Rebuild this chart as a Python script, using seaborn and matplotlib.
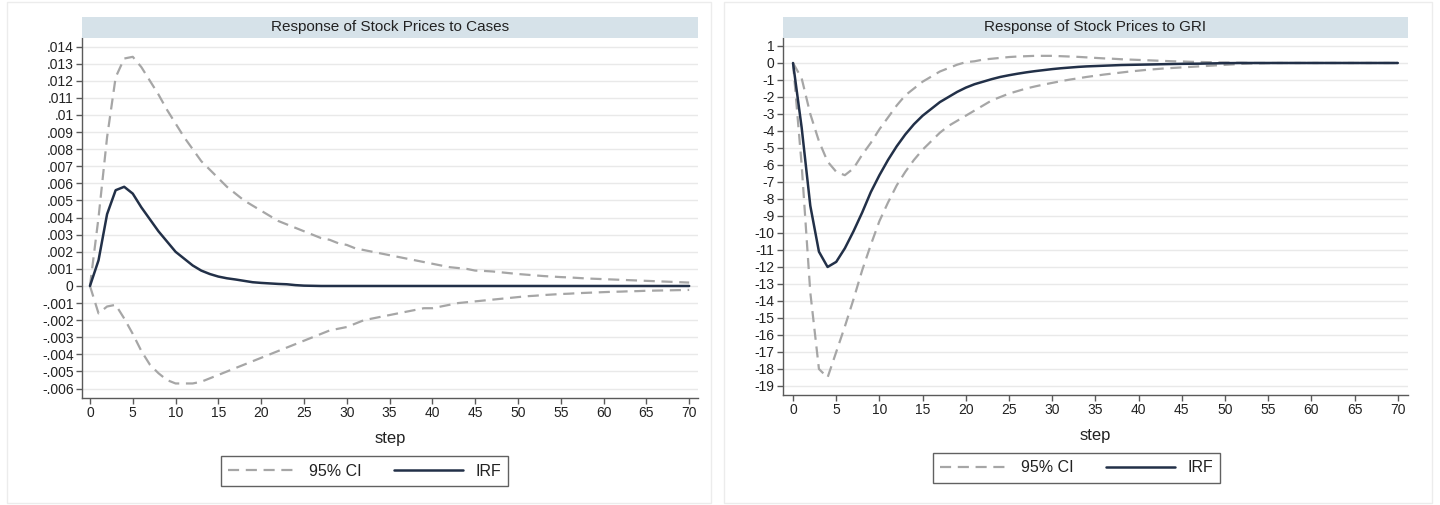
import numpy as np
import pandas as pd
import matplotlib
matplotlib.use("Agg")
import matplotlib.pyplot as plt
from matplotlib.patches import Rectangle
from matplotlib.lines import Line2D
import seaborn as sns

# ---------------- data ----------------
steps = list(range(71))

# Response of Stock Prices to Cases
cases_irf = [0, 0.0015, 0.0042, 0.0056, 0.0058, 0.0054, 0.0046, 0.0039, 0.0032, 0.0026,
             0.0020, 0.0016, 0.0012, 0.0009, 0.0007, 0.00055, 0.00045, 0.00038, 0.0003, 0.00022,
             0.00018, 0.00015, 0.00012, 0.0001, 0.00005, 0.00002, 0.00001] + [0.0] * 44
cases_upper = [0, 0.0040, 0.0087, 0.0122, 0.0133, 0.0134, 0.0128, 0.0120, 0.0112, 0.0103,
               0.0095, 0.0087, 0.0080, 0.0073, 0.0068, 0.0063, 0.0058, 0.0054, 0.0050, 0.0047,
               0.0044, 0.0041, 0.0038, 0.0036, 0.0034, 0.0032, 0.0030, 0.0028, 0.0027, 0.0025,
               0.0024, 0.0022, 0.0021, 0.0020, 0.0019, 0.0018, 0.0017, 0.0016, 0.0015, 0.0014,
               0.0013, 0.0012, 0.0011, 0.00105, 0.0010, 0.0009, 0.00088, 0.00085, 0.0008, 0.00075,
               0.0007, 0.00066, 0.00062, 0.00058, 0.00055, 0.00052, 0.0005, 0.00047, 0.00044, 0.00042,
               0.0004, 0.00038, 0.00036, 0.00034, 0.00032, 0.0003, 0.00028, 0.00026, 0.00024, 0.00022,
               0.0002]
cases_lower = [0, -0.0016, -0.0012, -0.0011, -0.0019, -0.0028, -0.0038, -0.0046, -0.0051, -0.0055,
               -0.0057, -0.0057, -0.0057, -0.0056, -0.0054, -0.0052, -0.0050, -0.0048, -0.0046, -0.0044,
               -0.0042, -0.0040, -0.0038, -0.0036, -0.0034, -0.0032, -0.0030, -0.0028, -0.0026, -0.0025,
               -0.0024, -0.0022, -0.0020, -0.0019, -0.0018, -0.0017, -0.0016, -0.0015, -0.0014, -0.0013,
               -0.0013, -0.0012, -0.0011, -0.0010, -0.00095, -0.0009, -0.00085, -0.0008, -0.00075, -0.0007,
               -0.00065, -0.0006, -0.00057, -0.00053, -0.0005, -0.00047, -0.00045, -0.00042, -0.0004, -0.00038,
               -0.00036, -0.00034, -0.00033, -0.00031, -0.0003, -0.00028, -0.00027, -0.00026, -0.00025, -0.00024,
               -0.00023]

# Response of Stock Prices to GRI
gri_irf = [0, -3.8, -8.4, -11.1, -12.0, -11.7, -10.9, -9.9, -8.8, -7.6,
           -6.6, -5.7, -4.9, -4.2, -3.6, -3.1, -2.7, -2.3, -2.0, -1.7,
           -1.45, -1.25, -1.1, -0.95, -0.82, -0.72, -0.63, -0.55, -0.48, -0.42,
           -0.36, -0.31, -0.27, -0.23, -0.2, -0.18, -0.16, -0.14, -0.12, -0.11,
           -0.1, -0.09, -0.08, -0.07, -0.06, -0.05, -0.045, -0.04, -0.03, -0.02,
           -0.01, -0.005] + [0.0] * 19
gri_upper = [0, -0.9, -3.0, -4.6, -5.8, -6.4, -6.6, -6.2, -5.4, -4.7,
             -3.9, -3.2, -2.5, -1.9, -1.5, -1.1, -0.8, -0.5, -0.3, -0.1,
             0.05, 0.1, 0.2, 0.25, 0.3, 0.35, 0.38, 0.4, 0.42, 0.42,
             0.42, 0.4, 0.38, 0.36, 0.33, 0.3, 0.27, 0.25, 0.22, 0.2,
             0.18, 0.16, 0.14, 0.12, 0.1, 0.09, 0.07, 0.06, 0.05, 0.04,
             0.03, 0.02, 0.01] + [0.0] * 18
gri_lower = [0, -6.0, -13.5, -18.0, -18.5, -17.0, -15.5, -13.9, -12.2, -10.7,
             -9.3, -8.2, -7.2, -6.4, -5.7, -5.1, -4.6, -4.1, -3.7, -3.4,
             -3.1, -2.8, -2.5, -2.2, -2.0, -1.8, -1.65, -1.5, -1.38, -1.27,
             -1.17, -1.07, -0.98, -0.9, -0.82, -0.75, -0.68, -0.62, -0.56, -0.5,
             -0.45, -0.4, -0.36, -0.32, -0.29, -0.26, -0.23, -0.2, -0.17, -0.14,
             -0.11, -0.08, -0.05, -0.03, -0.02, -0.01] + [0.0] * 15

x_ticks = [0, 5, 10, 15, 20, 25, 30, 35, 40, 45, 50, 55, 60, 65, 70]

cases_yticks = [0.014, 0.013, 0.012, 0.011, 0.010, 0.009, 0.008, 0.007, 0.006, 0.005, 0.004,
                0.003, 0.002, 0.001, 0.0, -0.001, -0.002, -0.003, -0.004, -0.005, -0.006]
cases_yticklabels = [".014", ".013", ".012", ".011", ".01", ".009", ".008", ".007", ".006", ".005",
                     ".004", ".003", ".002", ".001", "0", "-.001", "-.002", "-.003", "-.004", "-.005",
                     "-.006"]
gri_yticks = list(range(1, -20, -1))
gri_yticklabels = [str(v) for v in gri_yticks]

titles = ["Response of Stock Prices to Cases", "Response of Stock Prices to GRI"]
legend_labels = ["95% CI", "IRF"]

# ---------------- style ----------------
sns.set_theme(style="white")
plt.rcParams["font.family"] = ["Liberation Sans", "DejaVu Sans"]

IRF_COLOR = "#223048"
CI_COLOR = "#a6a6a6"
GRID_COLOR = "#e9e9e9"
BAND_COLOR = "#d6e2e9"
AXIS_COLOR = "#5a5a5a"
CI_DASH = (0, (5, 3))

W, H = 1440, 505
fig = plt.figure(figsize=(W / 100, H / 100), dpi=100)


def fbox(x0, y0, x1, y1):
    """pixel box (top-left origin) -> figure fraction [left, bottom, width, height]"""
    return [x0 / W, 1 - y1 / H, (x1 - x0) / W, (y1 - y0) / H]


# faint outer graph-region frames
for x0, x1 in [(7, 711), (724, 1432)]:
    l, b, w, h = fbox(x0, 2, x1, 503)
    fig.add_artist(Rectangle((l, b), w, h, transform=fig.transFigure,
                             facecolor="none", edgecolor="#ececec", lw=1.0))

panels = [
    dict(box=(82, 38, 698, 398), xlim=(-0.93, 71.03), ylim=(-0.00655, 0.0145),
         irf=cases_irf, up=cases_upper, lo=cases_lower,
         yt=cases_yticks, ytl=cases_yticklabels, title=titles[0],
         leg_center=(364.5, 471)),
    dict(box=(783, 38, 1408, 395), xlim=(-1.16, 71.18), ylim=(-19.53, 1.47),
         irf=gri_irf, up=gri_upper, lo=gri_lower,
         yt=gri_yticks, ytl=gri_yticklabels, title=titles[1],
         leg_center=(1076.5, 468)),
]

for p in panels:
    x0, y0, x1, y1 = p["box"]
    ax = fig.add_axes(fbox(x0, y0, x1, y1))
    ax.set_facecolor("white")

    df = pd.DataFrame({"step": steps, "irf": p["irf"], "upper": p["up"], "lower": p["lo"]})

    # horizontal grid at every y tick
    for yv in p["yt"]:
        ax.axhline(yv, color=GRID_COLOR, lw=1.0, zorder=0)

    sns.lineplot(data=df, x="step", y="upper", ax=ax, color=CI_COLOR, lw=1.6,
                 linestyle=CI_DASH, legend=False, zorder=2)
    sns.lineplot(data=df, x="step", y="lower", ax=ax, color=CI_COLOR, lw=1.6,
                 linestyle=CI_DASH, legend=False, zorder=2)
    sns.lineplot(data=df, x="step", y="irf", ax=ax, color=IRF_COLOR, lw=1.8,
                 legend=False, zorder=3)

    ax.set_xlim(*p["xlim"])
    ax.set_ylim(*p["ylim"])
    ax.set_xticks(x_ticks)
    ax.set_xticklabels([str(t) for t in x_ticks])
    ax.set_yticks(p["yt"])
    ax.set_yticklabels(p["ytl"])
    ax.grid(False)

    for side in ["top", "right"]:
        ax.spines[side].set_visible(False)
    for side in ["left", "bottom"]:
        ax.spines[side].set_color(AXIS_COLOR)
        ax.spines[side].set_linewidth(1.0)
    ax.tick_params(axis="both", which="major", direction="out", length=4, width=1.0,
                   color=AXIS_COLOR, labelsize=10, labelcolor="#222222", pad=2,
                   left=True, bottom=True)

    ax.set_ylabel("")
    ax.set_xlabel("step", fontsize=12, color="#222222", labelpad=8)

    # title band above the plot area
    l, b, w, h = fbox(x0, 17, x1, 38)
    fig.add_artist(Rectangle((l, b), w, h, transform=fig.transFigure,
                             facecolor=BAND_COLOR, edgecolor="none"))
    fig.text(l + w / 2, b + h / 2, p["title"], ha="center", va="center",
             fontsize=11, color="#222222")

    handles = [Line2D([], [], color=CI_COLOR, lw=1.6, linestyle=CI_DASH),
               Line2D([], [], color=IRF_COLOR, lw=1.8)]
    cx, cy = p["leg_center"]
    leg = fig.legend(handles, legend_labels, loc="center",
                     bbox_to_anchor=(cx / W, 1 - cy / H), ncol=2, fontsize=11.5,
                     frameon=True, fancybox=False, handlelength=4.3,
                     columnspacing=2.0, handletextpad=0.8, borderpad=0.45,
                     borderaxespad=0)
    leg.get_frame().set_edgecolor("#3a3a3a")
    leg.get_frame().set_linewidth(1.0)
    for t in leg.get_texts():
        t.set_color("#222222")

fig.savefig("out.png", dpi=100, facecolor="white")
